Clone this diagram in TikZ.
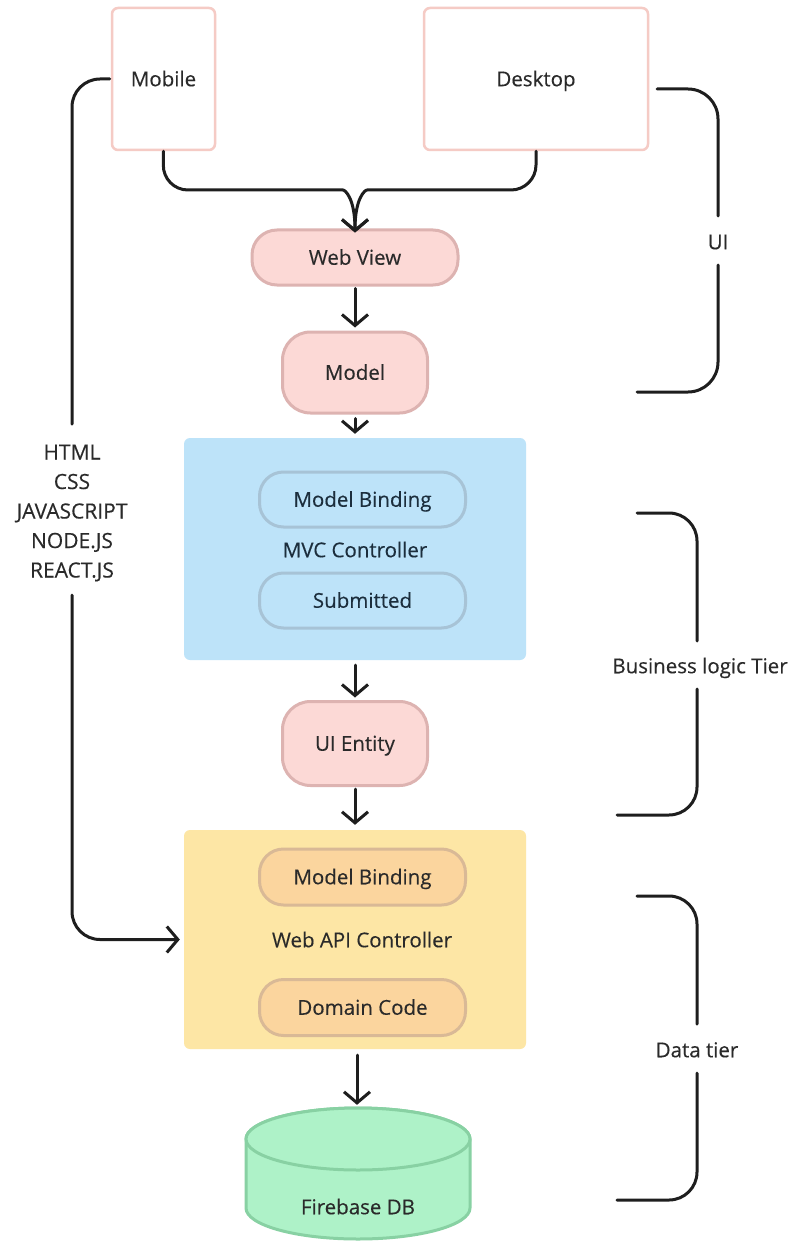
\documentclass[tikz,border=0pt]{standalone}
\usepackage{fontspec}
\setmainfont{Open Sans}[FakeBold=0.3]
\usetikzlibrary{arrows.meta}
\definecolor{devborder}{HTML}{F5CBC5}
\definecolor{pinkfill}{HTML}{FCD9D6}
\definecolor{pinkborder}{HTML}{DDB3B1}
\definecolor{bluefill}{HTML}{BDE3F9}
\definecolor{blueborder}{HTML}{A7C3D6}
\definecolor{yellowfill}{HTML}{FDE6A5}
\definecolor{orangefill}{HTML}{FBD59E}
\definecolor{orangeborder}{HTML}{D9B996}
\definecolor{greenfill}{HTML}{AEF2C8}
\definecolor{greenborder}{HTML}{88D1A3}
\definecolor{ink}{HTML}{1E1E1E}
\definecolor{txt}{HTML}{2A2A2A}
\definecolor{bluetxt}{HTML}{1C2E3D}
\tikzset{
  lbl/.style={font=\fontsize{20.5}{24}\selectfont, text=txt, inner sep=0pt, text height=14.5pt, text depth=0pt},
  device/.style={draw=devborder, fill=white, line width=2.5pt, rounded corners=6pt, lbl},
  pinkpill/.style={draw=pinkborder, fill=pinkfill, line width=3pt, lbl},
  container/.style={rounded corners=6pt},
  bluepill/.style={draw=blueborder, fill=bluefill, line width=3pt, rounded corners=24pt, lbl, text=bluetxt,
     minimum width=206pt, minimum height=55pt},
  orangepill/.style={draw=orangeborder, fill=orangefill, line width=3pt, rounded corners=24pt, lbl,
     minimum width=206pt, minimum height=56pt},
  conn/.style={draw=ink, line width=3pt, line cap=round, line join=round},
  arr/.style={conn, -{Straight Barb[length=11pt,width=26pt]}},
  cyl/.style={draw=greenborder, fill=greenfill, line width=3pt},
  techlist/.style={font=\fontsize{21}{29.5}\selectfont, text=txt, inner sep=0pt, align=center},
}
\begin{document}
\begin{tikzpicture}[x=1pt,y=-1pt]
\useasboundingbox (0,0) rectangle (791,1241);
\fill[white] (0,0) rectangle (791,1241);

% devices
\node[device, minimum width=103pt, minimum height=142pt] (mobile) at (163.5,79) {Mobile};
\node[device, minimum width=224pt, minimum height=142pt] (desktop) at (536,79) {Desktop};

% pink pills
\node[pinkpill, rounded corners=25pt, minimum width=206pt, minimum height=55pt] (webview) at (355,257.5) {Web View};
\node[pinkpill, rounded corners=28pt, minimum width=145pt, minimum height=81pt] (model) at (355,372.5) {Model};

% blue container
\node[container, fill=bluefill, minimum width=342pt, minimum height=222pt] (mvc) at (355,549) {};
\node[bluepill] (mb1) at (362.5,499.5) {Model Binding};
\node[lbl, text=bluetxt] (mvctext) at (355,550) {MVC Controller};
\node[bluepill] (sub) at (362.5,600.5) {Submitted};

\node[pinkpill, rounded corners=28pt, minimum width=145pt, minimum height=84pt] (uient) at (355,743.5) {UI Entity};

% yellow container
\node[container, fill=yellowfill, minimum width=342pt, minimum height=219pt] (api) at (355,939.5) {};
\node[orangepill] (mb2) at (362.5,877) {Model Binding};
\node[lbl] (apitext) at (362,940) {Web API Controller};
\node[orangepill] (dom) at (362.5,1007.5) {Domain Code};

% cylinder
\filldraw[cyl] (246,1139) -- (246,1208) arc[start angle=180,end angle=0,x radius=112,y radius=31]
   -- (470,1139) arc[start angle=0,end angle=-180,x radius=112,y radius=31] -- cycle;
\draw[cyl] (358,1139) ellipse[x radius=112, y radius=31];
\node[minimum width=224pt, minimum height=132pt, inner sep=0pt] (db) at (357,1174) {};
\node[lbl] (dbtext) at (358,1207) {Firebase DB};

% tech label
\node[techlist] (tech) at (72,513) {HTML\\CSS\\JAVASCRIPT\\NODE.JS\\REACT.JS};
\coordinate (t1) at (72,424);
\coordinate (t2) at (72,595);

% connectors
\draw[arr, rounded corners=25pt] (mobile.south) -- (163,190) -- (318,190) .. controls (345,190) and (355,198) .. ([yshift=-4pt]webview.north);
\draw[arr, rounded corners=25pt] (desktop.south) -- (536,190) -- (392,190) .. controls (365,190) and (355,198) .. ([yshift=-4pt]webview.north);
\draw[arr, shorten <=2pt, shorten >=3pt] (webview.south) -- (model.north);
\draw[arr, shorten <=4pt, shorten >=4pt] (model.south) -- (mvc.north);
\draw[arr, shorten <=5pt, shorten >=2.5pt] (mvc.south) -- (uient.north);
\draw[arr, shorten <=2pt, shorten >=5pt] (uient.south) -- (api.north);
\draw[arr, shorten <=6pt, shorten >=3pt] (db.north |- api.south) -- (db.north);

\draw[conn, rounded corners=28pt] ([xshift=-1pt]mobile.west) -| (t1);
\draw[arr, rounded corners=28pt, shorten >=4pt] (t2) |- (api.west);

% brackets
\node[lbl] (ui) at (718,242) {UI};
\draw[conn, rounded corners=30pt] (657,89) -- (718,89) -- (718,216);
\draw[conn, rounded corners=30pt] (718,265) -- (718,392) -- (637,392);

\node[lbl] (blt) at (700,666) {Business logic Tier};
\draw[conn, rounded corners=28pt] (637,513) -- (697,513) -- (697,641);
\draw[conn, rounded corners=28pt] (697,689) -- (697,815) -- (617,815);

\node[lbl] (dt) at (697,1050) {Data tier};
\draw[conn, rounded corners=28pt] (637,896) -- (697,896) -- (697,1024);
\draw[conn, rounded corners=28pt] (697,1073) -- (697,1200) -- (617,1200);
\end{tikzpicture}
\end{document}
